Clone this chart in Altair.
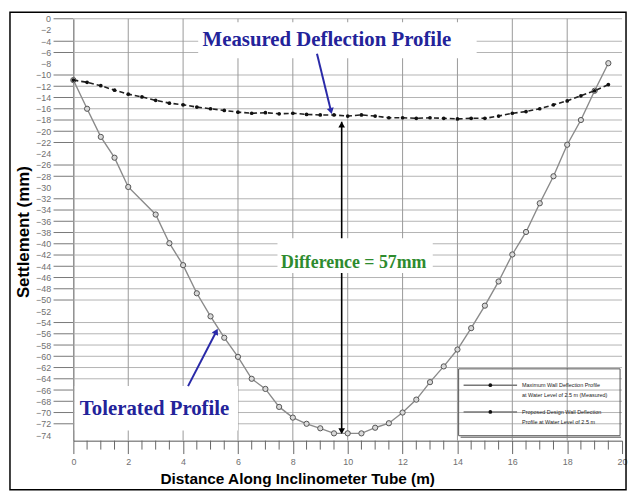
import math
import altair as alt
import pandas as pd

# ---------------- data ----------------
measured_distance = [0, 0.5, 1, 1.5, 2, 2.5, 3, 3.5, 4, 4.5, 5, 5.5, 6, 6.5, 7, 7.5,
                     8, 8.5, 9, 9.5, 10, 10.5, 11, 11.5, 12, 12.5, 13, 13.5, 14, 14.5,
                     15, 15.5, 16, 16.5, 17, 17.5, 18, 18.5, 19, 19.5]
measured_settlement = [-10.9, -11.3, -11.9, -12.7, -13.4, -13.9, -14.5, -15.0, -15.3, -15.7,
                       -16.0, -16.3, -16.6, -16.8, -16.7, -16.9, -16.8, -17.0, -17.1, -17.1,
                       -17.3, -17.1, -17.3, -17.6, -17.6, -17.7, -17.6, -17.7, -17.8, -17.7,
                       -17.7, -17.3, -16.8, -16.5, -16.0, -15.3, -14.6, -13.7, -12.8, -11.7]

tolerated_distance = [0, 0.5, 1, 1.5, 2, 3, 3.5, 4, 4.5, 5, 5.5, 6, 6.5, 7, 7.5, 8,
                      8.5, 9, 9.5, 10, 10.5, 11, 11.5, 12, 12.5, 13, 13.5, 14, 14.5, 15,
                      15.5, 16, 16.5, 17, 17.5, 18, 18.5, 19, 19.5]
tolerated_settlement = [-10.9, -16.0, -21.0, -24.7, -29.9, -34.8, -39.9, -43.8, -48.8, -52.9,
                        -56.7, -60.1, -64.0, -65.8, -69.0, -70.9, -72.0, -72.8, -73.7, -73.7,
                        -73.7, -72.7, -71.9, -70.0, -67.7, -64.6, -61.8, -58.8, -55.0, -51.0,
                        -46.7, -41.9, -37.9, -32.8, -28.0, -22.4, -18.0, -12.8, -7.9]

y_label_values = [0, -2, -4, -6, -8, -10, -12, -14, -16, -18, -20, -22, -24, -26, -28, -30,
                  -32, -34, -36, -38, -40, -42, -44, -46, -48, -50, -52, -54, -56, -58, -60,
                  -62, -64, -66, -68, -70, -72, -74]
y_grid_levels = [0, -4, -6, -10, -12, -14, -16, -18, -20, -22, -26, -28, -32, -34, -36, -38,
                 -40, -42, -44, -46, -48, -50, -54, -56, -58, -60, -62, -64, -66, -68, -70, -72]
x_label_values = [0, 2, 4, 6, 8, 10, 12, 14, 16, 18, 20]
x_grid_values = [2, 4, 6, 8, 10, 12, 14, 16, 18]
x_minor_ticks = [0.5, 1, 1.5, 2.5, 3, 3.5, 4.5, 5, 5.5, 6.5, 7, 7.5, 8.5, 9, 9.5, 10.5, 11,
                 11.5, 12.5, 13, 13.5, 14.5, 15, 15.5, 16.5, 17, 17.5, 18.5, 19, 19.5]

annotation_texts = ["Measured Deflection Profile", "Difference = 57mm", "Tolerated Profile"]
annotation_x = [9.24, 10.22, 2.96]
annotation_y = [-3.8, -43.4, -69.3]
annotation_colors = ["#23239a", "#2e8b2e", "#23239a"]
annotation_sizes = [21, 18, 21]

# white boxes behind annotation texts (data units)
box_x = [4.55, 7.44, 0.05]
box_x2 = [14.7, 13.1, 6.0]
box_y = [-0.6, -39.0, -65.3]
box_y2 = [-7.0, -45.2, -73.2]

# difference arrow (data units)
diff_x = 9.78
diff_top = -18.3
diff_bottom = -73.6

# blue pointer arrows (data units): start -> tip
pointer_x = [8.88, 4.18]
pointer_y = [-6.24, -65.3]
pointer_x2 = [9.39, 5.21]
pointer_y2 = [-16.4, -55.6]

legend_labels = ["Maximum Wall Deflection Profile\nat Water Level of 2.5 m (Measured)",
                 "Proposed Design Wall Deflection\nProfile at Water Level of 2.5 m"]

# ---------------- layout ----------------
W, H = 554, 426
PX_PER_X = W / 20.0
PX_PER_Y = H / 75.0

xs = alt.Scale(domain=[0, 20], nice=False, zero=False)
ys = alt.Scale(domain=[-75, 0], nice=False, zero=False)

x_axis = alt.Axis(values=x_label_values, grid=False, tickSize=13, tickColor="#666",
                  domainColor="#555", labelPadding=4, labelFontSize=9, labelColor="#707070",
                  labelFont="Liberation Sans", labelFlush=False, labelOverlap=False,
                  title="Distance Along Inclinometer Tube (m)", titleFont="Liberation Sans",
                  titleFontSize=15.5, titleFontWeight="bold", titleColor="black",
                  titleX=226, titleY=46, titleBaseline="bottom", titleAlign="center")
y_axis = alt.Axis(values=y_label_values, grid=False, tickSize=20, tickColor="transparent",
                  domainColor="#555", labelPadding=3, labelFontSize=9, labelColor="#707070",
                  labelFont="Liberation Sans", labelFlush=False, labelOverlap=False,
                  title="Settlement (mm)", titleFont="Liberation Sans", titleFontSize=17,
                  titleFontWeight="bold", titleColor="black", titleX=-50, titleY=H / 2 + 2,
                  titleAngle=270, titleBaseline="middle", titleAlign="center")


def X(f="x"):
    return alt.X(f"{f}:Q", scale=xs, axis=x_axis)


def Y(f="y"):
    return alt.Y(f"{f}:Q", scale=ys, axis=y_axis)


one = pd.DataFrame({"k": [0]})

frame = alt.Chart(one).mark_rect(fillOpacity=0, stroke="black", strokeWidth=1.5).encode(
    x=alt.value(-64), x2=alt.value(558), y=alt.value(-6.5), y2=alt.value(475.5))

grid_df = pd.DataFrame({"y": y_grid_levels})
y_ticks = alt.Chart(grid_df).mark_rule(color="#777", strokeWidth=1).encode(
    y=Y(), x=alt.value(-20), x2=alt.value(0))
y_grid = alt.Chart(grid_df).mark_rule(color="#b3b3b3", strokeWidth=1).encode(
    y=Y(), x=alt.value(0), x2=alt.value(W))
x_grid = alt.Chart(pd.DataFrame({"x": x_grid_values})).mark_rule(color="#999", strokeWidth=1).encode(
    x=X(), y=alt.value(0), y2=alt.value(H))
x_minor = alt.Chart(pd.DataFrame({"x": x_minor_ticks})).mark_rule(color="#666", strokeWidth=1).encode(
    x=X(), y=alt.value(H), y2=alt.value(H + 9))

box_df = pd.DataFrame({"x": box_x, "x2": box_x2, "y": box_y, "y2": box_y2})
boxes_top = alt.Chart(box_df.iloc[[0, 2]]).mark_rect(fill="white").encode(
    x=X(), x2="x2:Q", y=Y(), y2="y2:Q")
box_diff = alt.Chart(box_df.iloc[[1]]).mark_rect(fill="white").encode(
    x=X(), x2="x2:Q", y=Y(), y2="y2:Q")

diff_line = alt.Chart(pd.DataFrame({"x": [diff_x], "y": [diff_top], "y2": [diff_bottom]})).mark_rule(
    color="black", strokeWidth=1.6).encode(x=X(), y=Y(), y2="y2:Q")
diff_heads = alt.Chart(pd.DataFrame({"x": [diff_x, diff_x], "y": [diff_top - 0.5, diff_bottom + 0.3],
                                     "s": ["triangle-up", "triangle-down"]})).mark_point(
    filled=True, color="black", size=45, opacity=1).encode(
    x=X(), y=Y(), shape=alt.Shape("s:N", scale=None))

tol_df = pd.DataFrame({"x": tolerated_distance, "y": tolerated_settlement})
tol_line = alt.Chart(tol_df).mark_line(color="#8a8a8a", strokeWidth=1.4).encode(x=X(), y=Y())
tol_pts = alt.Chart(tol_df).mark_point(shape="circle", size=28, fill="#d8d8d8", stroke="#555",
                                       strokeWidth=1, opacity=1, fillOpacity=1).encode(x=X(), y=Y())

mea_df = pd.DataFrame({"x": measured_distance, "y": measured_settlement})
mea_line = alt.Chart(mea_df).mark_line(color="#222", strokeWidth=1.6, strokeDash=[5, 3]).encode(
    x=X(), y=Y())
mea_pts = alt.Chart(mea_df).mark_point(shape="circle", size=14, filled=True, color="#111",
                                       opacity=1).encode(x=X(), y=Y())

angles = []
for x1, y1, x2, y2 in zip(pointer_x, pointer_y, pointer_x2, pointer_y2):
    dx = (x2 - x1) * PX_PER_X
    dy = -(y2 - y1) * PX_PER_Y
    angles.append(math.degrees(math.atan2(dx, -dy)) % 360)
ptr_df = pd.DataFrame({"x": pointer_x, "y": pointer_y, "x2": pointer_x2, "y2": pointer_y2,
                       "a": angles})
ptr_lines = alt.Chart(ptr_df).mark_rule(color="#2a2aa8", strokeWidth=2).encode(
    x=X(), y=Y(), x2="x2:Q", y2="y2:Q")
ptr_heads = alt.Chart(ptr_df).mark_point(shape="triangle-up", filled=True, color="#2a2aa8",
                                         size=50, opacity=1).encode(
    x=X("x2"), y=Y("y2"), angle=alt.Angle("a:Q", scale=None))

ann_df = pd.DataFrame({"x": annotation_x, "y": annotation_y, "t": annotation_texts,
                       "c": annotation_colors, "fs": annotation_sizes})
ann_text = alt.Chart(ann_df).mark_text(font="Liberation Serif", fontWeight="bold",
                                       align="center", baseline="middle").encode(
    x=X(), y=Y(), text="t:N", color=alt.Color("c:N", scale=None),
    size=alt.Size("fs:Q", scale=None))

# legend (drawn in pixel positions)
leg_box = alt.Chart(one).mark_rect(fillOpacity=0, stroke="#555", strokeWidth=1).encode(
    x=alt.value(389), x2=alt.value(552), y=alt.value(353.5), y2=alt.value(421))
leg_shadow = alt.Chart(one).mark_rule(color="#888", strokeWidth=1.5).encode(
    x=alt.value(391), x2=alt.value(553), y=alt.value(422.5))
leg_rows = pd.DataFrame({"yy": [370, 397], "t": legend_labels})
leg_y = alt.Y("yy:Q", scale=None, axis=None)
leg_lines = alt.Chart(leg_rows).mark_rule(color="#777", strokeWidth=1.6).encode(
    x=alt.value(394), x2=alt.value(448), y=leg_y)
leg_dots = alt.Chart(leg_rows).mark_point(shape="circle", filled=True, color="#111", size=14,
                                          opacity=1).encode(x=alt.value(421), y=leg_y)
leg_text = alt.Chart(leg_rows).mark_text(font="Liberation Sans", fontSize=5.5, align="left",
                                         baseline="middle", lineBreak="\n", color="#222",
                                         lineHeight=10).encode(
    x=alt.value(453), y=leg_y, text="t:N")

chart = alt.layer(
    frame, y_grid, x_grid, y_ticks, x_minor, boxes_top, diff_line, box_diff,
    tol_line, tol_pts, mea_line, mea_pts, diff_heads, ptr_lines, ptr_heads, ann_text,
    leg_box, leg_shadow, leg_lines, leg_dots, leg_text
).properties(
    width=W, height=H, autosize="none",
    padding={"left": 66, "top": 8.5, "right": 6, "bottom": 52.5},
    background="white"
).configure_view(stroke=None)

chart.save("out.html", embed_options={"renderer": "svg", "actions": False})
